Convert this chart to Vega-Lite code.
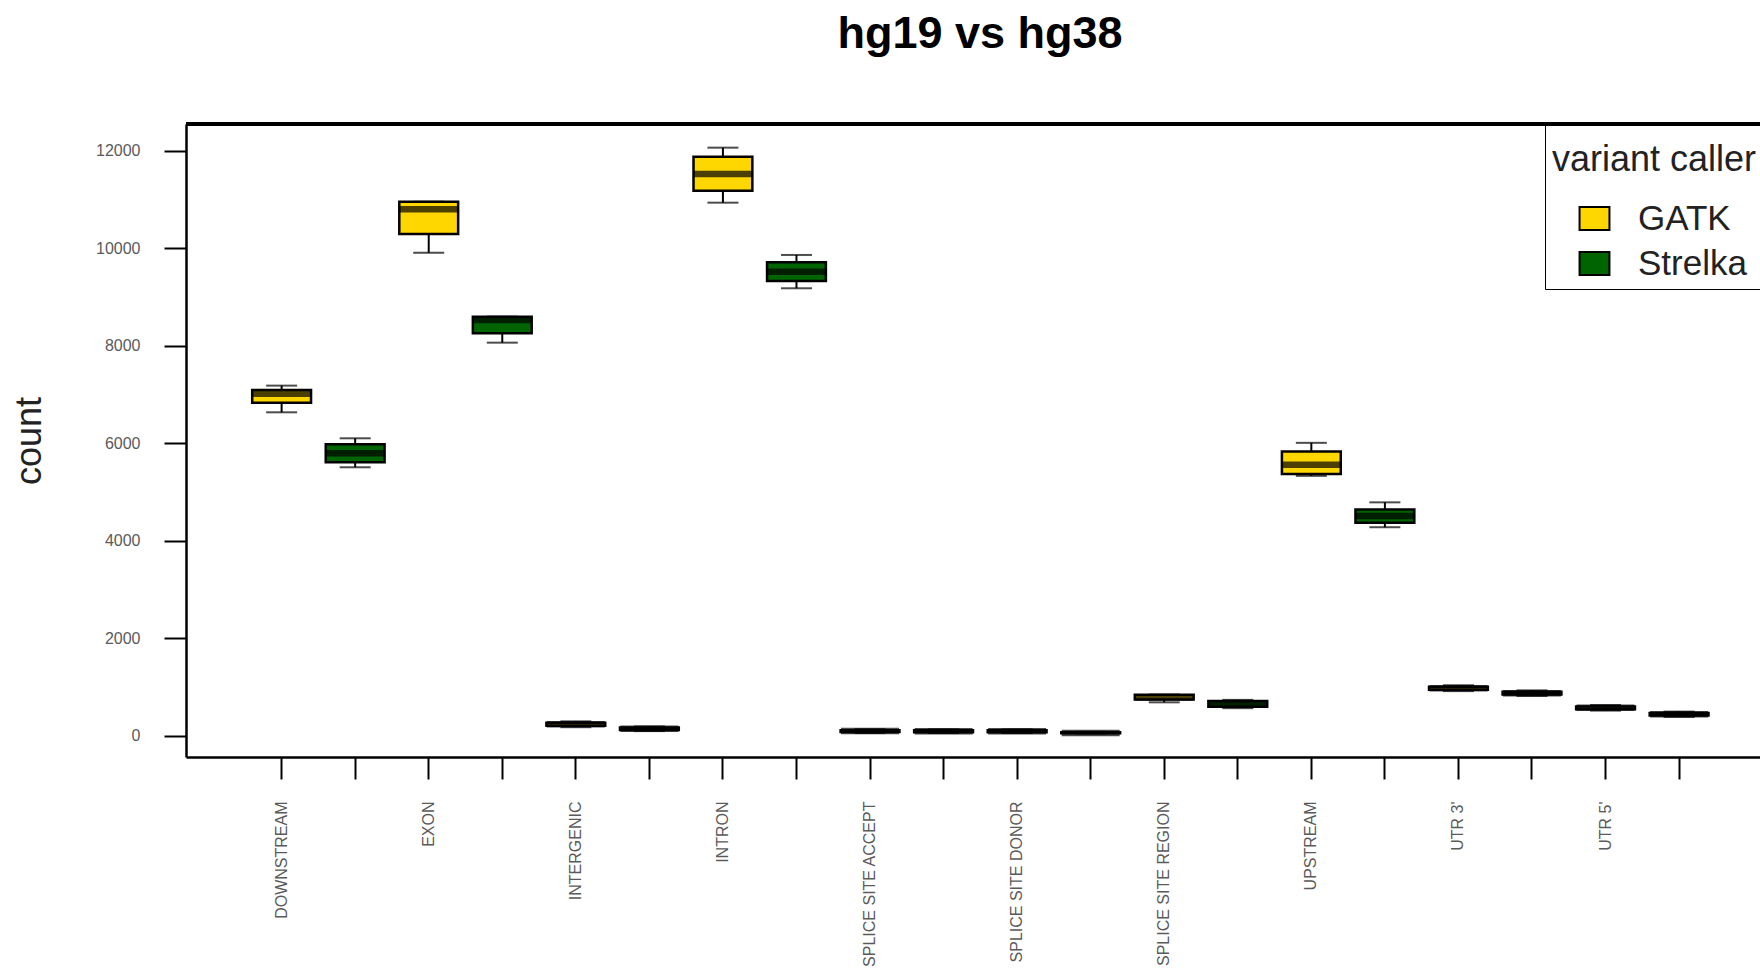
{
  "$schema": "https://vega.github.io/schema/vega-lite/v6.json",
  "width": 1574,
  "height": 633,
  "autosize": {"type": "none"},
  "padding": {"left": 186, "top": 124, "right": 0, "bottom": 223},
  "background": "white",
  "config": {
    "view": {"stroke": null},
    "font": "Liberation Sans"
  },
  "title": {
    "text": "hg19 vs hg38",
    "font": "Liberation Sans",
    "fontSize": 45,
    "fontWeight": "bold",
    "color": "black",
    "anchor": "middle",
    "dx": 7,
    "offset": 66
  },
  "data": {
    "values": [
      {"key": "DOWNSTREAM|GATK", "region": "DOWNSTREAM", "caller": "GATK", "lower": 6636, "q1": 6830, "median": 7015, "q3": 7094, "upper": 7183},
      {"key": "DOWNSTREAM|Strelka", "region": "DOWNSTREAM", "caller": "Strelka", "lower": 5509, "q1": 5611, "median": 5796, "q3": 5980, "upper": 6103},
      {"key": "EXON|GATK", "region": "EXON", "caller": "GATK", "lower": 9909, "q1": 10292, "median": 10798, "q3": 10955, "upper": 10955},
      {"key": "EXON|Strelka", "region": "EXON", "caller": "Strelka", "lower": 8064, "q1": 8256, "median": 8529, "q3": 8597, "upper": 8597},
      {"key": "INTERGENIC|GATK", "region": "INTERGENIC", "caller": "GATK", "lower": 180, "q1": 210, "median": 242, "q3": 270, "upper": 300},
      {"key": "INTERGENIC|Strelka", "region": "INTERGENIC", "caller": "Strelka", "lower": 100, "q1": 125, "median": 150, "q3": 175, "upper": 195},
      {"key": "INTRON|GATK", "region": "INTRON", "caller": "GATK", "lower": 10934, "q1": 11180, "median": 11522, "q3": 11877, "upper": 12062},
      {"key": "INTRON|Strelka", "region": "INTRON", "caller": "Strelka", "lower": 9179, "q1": 9329, "median": 9520, "q3": 9712, "upper": 9862},
      {"key": "SPLICE SITE ACCEPT|GATK", "region": "SPLICE SITE ACCEPT", "caller": "GATK", "lower": 60, "q1": 80, "median": 100, "q3": 120, "upper": 140},
      {"key": "SPLICE SITE ACCEPT|Strelka", "region": "SPLICE SITE ACCEPT", "caller": "Strelka", "lower": 60, "q1": 78, "median": 97, "q3": 118, "upper": 135},
      {"key": "SPLICE SITE DONOR|GATK", "region": "SPLICE SITE DONOR", "caller": "GATK", "lower": 60, "q1": 78, "median": 98, "q3": 118, "upper": 135},
      {"key": "SPLICE SITE DONOR|Strelka", "region": "SPLICE SITE DONOR", "caller": "Strelka", "lower": 50, "q1": 55, "median": 62, "q3": 75, "upper": 85},
      {"key": "SPLICE SITE REGION|GATK", "region": "SPLICE SITE REGION", "caller": "GATK", "lower": 690, "q1": 750, "median": 790, "q3": 845, "upper": 850},
      {"key": "SPLICE SITE REGION|Strelka", "region": "SPLICE SITE REGION", "caller": "Strelka", "lower": 570, "q1": 600, "median": 655, "q3": 715, "upper": 740},
      {"key": "UPSTREAM|GATK", "region": "UPSTREAM", "caller": "GATK", "lower": 5333, "q1": 5370, "median": 5560, "q3": 5830, "upper": 6010},
      {"key": "UPSTREAM|Strelka", "region": "UPSTREAM", "caller": "Strelka", "lower": 4280, "q1": 4370, "median": 4510, "q3": 4645, "upper": 4790},
      {"key": "UTR 3'|GATK", "region": "UTR 3'", "caller": "GATK", "lower": 920, "q1": 950, "median": 978, "q3": 1010, "upper": 1040},
      {"key": "UTR 3'|Strelka", "region": "UTR 3'", "caller": "Strelka", "lower": 820, "q1": 850, "median": 878, "q3": 905, "upper": 935},
      {"key": "UTR 5'|GATK", "region": "UTR 5'", "caller": "GATK", "lower": 520, "q1": 550, "median": 577, "q3": 605, "upper": 635},
      {"key": "UTR 5'|Strelka", "region": "UTR 5'", "caller": "Strelka", "lower": 390, "q1": 420, "median": 445, "q3": 470, "upper": 500}
    ]
  },
  "encoding": {
    "x": {
      "field": "key",
      "type": "nominal",
      "sort": null,
      "scale": {"type": "band", "paddingInner": 0.2, "paddingOuter": 0.8, "align": 0.5625},
      "axis": {
        "title": null,
        "labelExpr": "split(datum.value, '|')[1] == 'GATK' ? split(datum.value, '|')[0] : ''",
        "labelAngle": -90,
        "labelAlign": "right",
        "labelBaseline": "middle",
        "labelFont": "Liberation Sans",
        "labelFontSize": 16,
        "labelColor": "#5a5a5a",
        "labelPadding": 22,
        "labelOverlap": false,
        "labelBound": false,
        "tickSize": 22,
        "tickWidth": 2,
        "tickColor": "black",
        "domainColor": "black",
        "domainWidth": 2.5,
        "grid": false
      }
    }
  },
  "layer": [
    {
      "mark": {"type": "rule", "color": "black", "strokeWidth": 2.5},
      "encoding": {"y": {"datum": 12547, "type": "quantitative"}, "x": null}
    },
    {
      "mark": {"type": "rule", "color": "black", "strokeWidth": 2},
      "encoding": {
        "y": {
          "field": "lower",
          "type": "quantitative",
          "scale": {"domain": [-431, 12547], "nice": false, "zero": false},
          "axis": {
            "title": "count",
            "titleFont": "Liberation Sans",
            "titleFontSize": 36,
            "titleFontWeight": "normal",
            "titleColor": "#222222",
            "titlePadding": 47,
            "values": [0, 2000, 4000, 6000, 8000, 10000, 12000],
            "format": "d",
            "labelFont": "Liberation Sans",
            "labelFontSize": 16,
            "labelColor": "#5a5a5a",
            "labelPadding": 24,
            "tickSize": 22,
            "tickWidth": 2,
            "tickColor": "black",
            "domainColor": "black",
            "domainWidth": 2.5,
            "grid": false
          }
        },
        "y2": {"field": "upper"}
      }
    },
    {
      "mark": {"type": "tick", "color": "black", "thickness": 2, "size": 31},
      "encoding": {"y": {"field": "lower", "type": "quantitative"}}
    },
    {
      "mark": {"type": "tick", "color": "black", "thickness": 2, "size": 31},
      "encoding": {"y": {"field": "upper", "type": "quantitative"}}
    },
    {
      "mark": {"type": "bar", "stroke": "black", "strokeWidth": 2.5, "opacity": 1},
      "encoding": {
        "y": {"field": "q1", "type": "quantitative"},
        "y2": {"field": "q3"},
        "fill": {
          "field": "caller",
          "type": "nominal",
          "scale": {"domain": ["GATK", "Strelka"], "range": ["#FFD700", "#006400"]},
          "legend": {
            "orient": "none",
            "legendX": 1359,
            "legendY": 0,
            "title": "variant caller",
            "titleFont": "Liberation Sans",
            "titleFontSize": 36,
            "titleFontWeight": "normal",
            "titleColor": "#222222",
            "titleBaseline": "line-top",
            "titleLineHeight": 59,
            "titleLimit": 400,
            "titlePadding": 34,
            "labelFont": "Liberation Sans",
            "labelFontSize": 35,
            "labelLimit": 300,
            "labelColor": "#222222",
            "symbolType": "M-1.3,-1H1.3V1H-1.3Z",
            "symbolSize": 529,
            "symbolStrokeColor": "black",
            "symbolStrokeWidth": 2,
            "symbolOpacity": 1,
            "symbolOffset": 25,
            "labelOffset": 26,
            "rowPadding": 9,
            "strokeColor": "black",
            "padding": 7
          }
        }
      }
    },
    {
      "mark": {"type": "tick", "color": "black", "thickness": 6.5, "size": 58},
      "encoding": {"y": {"field": "median", "type": "quantitative"}}
    }
  ]
}
